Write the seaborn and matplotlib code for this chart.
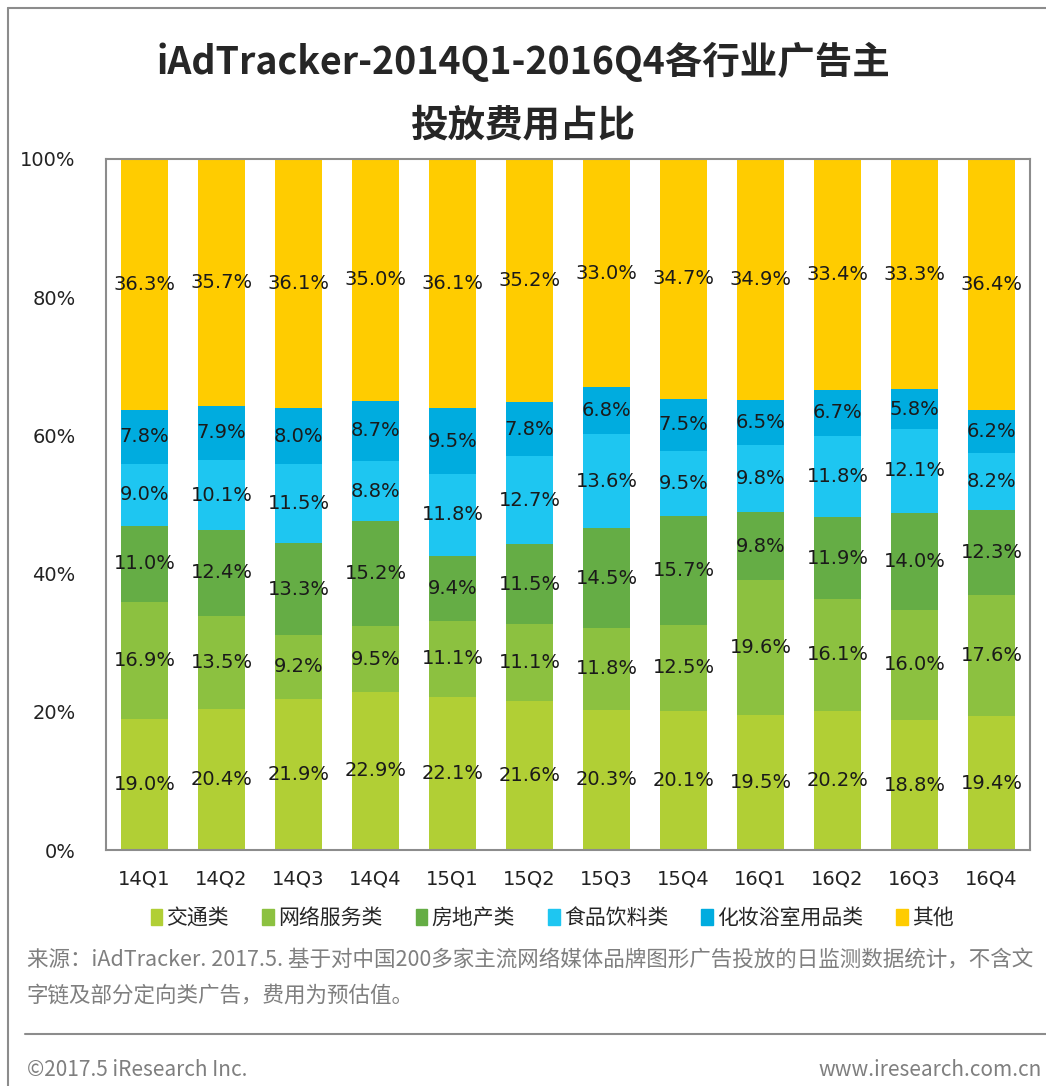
import numpy as np
import pandas as pd
import matplotlib
matplotlib.use("Agg")
import matplotlib.pyplot as plt
import matplotlib.patches as mpatches
from matplotlib.lines import Line2D
import seaborn as sns

# data
quarters = ['14Q1', '14Q2', '14Q3', '14Q4', '15Q1', '15Q2',
            '15Q3', '15Q4', '16Q1', '16Q2', '16Q3', '16Q4']
categories = ['交通类', '网络服务类', '房地产类', '食品饮料类', '化妆浴室用品类', '其他']

traffic = [19.0, 20.4, 21.9, 22.9, 22.1, 21.6, 20.3, 20.1, 19.5, 20.2, 18.8, 19.4]
network = [16.9, 13.5, 9.2, 9.5, 11.1, 11.1, 11.8, 12.5, 19.6, 16.1, 16.0, 17.6]
realestate = [11.0, 12.4, 13.3, 15.2, 9.4, 11.5, 14.5, 15.7, 9.8, 11.9, 14.0, 12.3]
food = [9.0, 10.1, 11.5, 8.8, 11.8, 12.7, 13.6, 9.5, 9.8, 11.8, 12.1, 8.2]
cosmetics = [7.8, 7.9, 8.0, 8.7, 9.5, 7.8, 6.8, 7.5, 6.5, 6.7, 5.8, 6.2]
others = [36.3, 35.7, 36.1, 35.0, 36.1, 35.2, 33.0, 34.7, 34.9, 33.4, 33.3, 36.4]

colors = ['#B1CF35', '#8CC140', '#65AD45', '#1EC6F1', '#00ACDF', '#FFCC00']

series = [traffic, network, realestate, food, cosmetics, others]
vals = np.array(series)
totals = vals.sum(axis=0)
cum = np.cumsum(vals, axis=0) / totals * 100

df = pd.DataFrame({'quarter': quarters})
for i, c in enumerate(categories):
    df[c] = cum[i]

sns.set_style('white')
plt.rcParams['font.family'] = ['Noto Sans CJK SC', 'DejaVu Sans']

fig = plt.figure(figsize=(10.46, 10.86), dpi=100)
ax = fig.add_axes([106 / 1046, 1 - 850 / 1086, 924 / 1046, 691 / 1086])

# stacked bars: draw cumulative heights from the top layer down
for i in range(len(categories) - 1, -1, -1):
    sns.barplot(data=df, x='quarter', y=categories[i], color=colors[i],
                width=0.62, saturation=1, ax=ax, order=quarters, linewidth=0)

# value labels in the middle of each segment
for i in range(len(categories)):
    lower = cum[i - 1] if i > 0 else np.zeros(len(quarters))
    for j in range(len(quarters)):
        mid = (lower[j] + cum[i][j]) / 2
        ax.text(j, mid, f'{vals[i][j]:.1f}%', ha='center', va='center',
                fontsize=14, color='#1a1a1a', family='DejaVu Sans')

ax.set_ylim(0, 100)
ax.set_xlim(-0.5, len(quarters) - 0.5)
ax.set_yticks([0, 20, 40, 60, 80, 100])
ax.set_yticklabels(['0%', '20%', '40%', '60%', '80%', '100%'])
ax.set_xlabel('')
ax.set_ylabel('')
ax.tick_params(axis='both', length=0, labelsize=14, colors='#222222')
ax.tick_params(axis='y', pad=22)
ax.tick_params(axis='x', pad=14)
for lab in ax.get_xticklabels() + ax.get_yticklabels():
    lab.set_family('DejaVu Sans')
for s in ax.spines.values():
    s.set_visible(True)
    s.set_color('#8c8c8c')
    s.set_linewidth(1.5)

# title
fig.text(0.5, 1 - 62 / 1086, 'iAdTracker-2014Q1-2016Q4各行业广告主', ha='center',
         va='center', fontsize=27, fontweight='bold')
fig.text(0.5, 1 - 125 / 1086, '投放费用占比', ha='center', va='center',
         fontsize=27, fontweight='bold')

# legend
handles = [mpatches.Patch(color=colors[i], label=categories[i]) for i in range(len(categories))]
fig.legend(handles=handles, loc='center', bbox_to_anchor=(0.528, 1 - 918 / 1086),
           ncol=6, frameon=False, fontsize=15, handlelength=0.55, handleheight=0.8,
           handletextpad=0.2, columnspacing=1.6)

# source note and footer
grey = '#7f7f7f'
fig.text(27 / 1046, 1 - 960 / 1086,
         '来源：iAdTracker. 2017.5. 基于对中国200多家主流网络媒体品牌图形广告投放的日监测数据统计，不含文',
         ha='left', va='center', fontsize=15.5, color=grey)
fig.text(27 / 1046, 1 - 996 / 1086, '字链及部分定向类广告，费用为预估值。',
         ha='left', va='center', fontsize=15.5, color=grey)
fig.add_artist(Line2D([25 / 1046, 1], [1 - 1034 / 1086, 1 - 1034 / 1086],
                      color='#8c8c8c', lw=1.5))
fig.text(27 / 1046, 1 - 1070 / 1086, '©2017.5 iResearch Inc.', ha='left',
         va='center', fontsize=15, color=grey)
fig.text(1042 / 1046, 1 - 1070 / 1086, 'www.iresearch.com.cn', ha='right',
         va='center', fontsize=15, color=grey)

# outer frame (left and top edges)
fig.add_artist(Line2D([8 / 1046, 8 / 1046], [0, 1 - 8 / 1086], color='#8c8c8c', lw=1.5))
fig.add_artist(Line2D([8 / 1046, 1], [1 - 8 / 1086, 1 - 8 / 1086], color='#8c8c8c', lw=1.5))

fig.savefig('out.png', dpi=100)
